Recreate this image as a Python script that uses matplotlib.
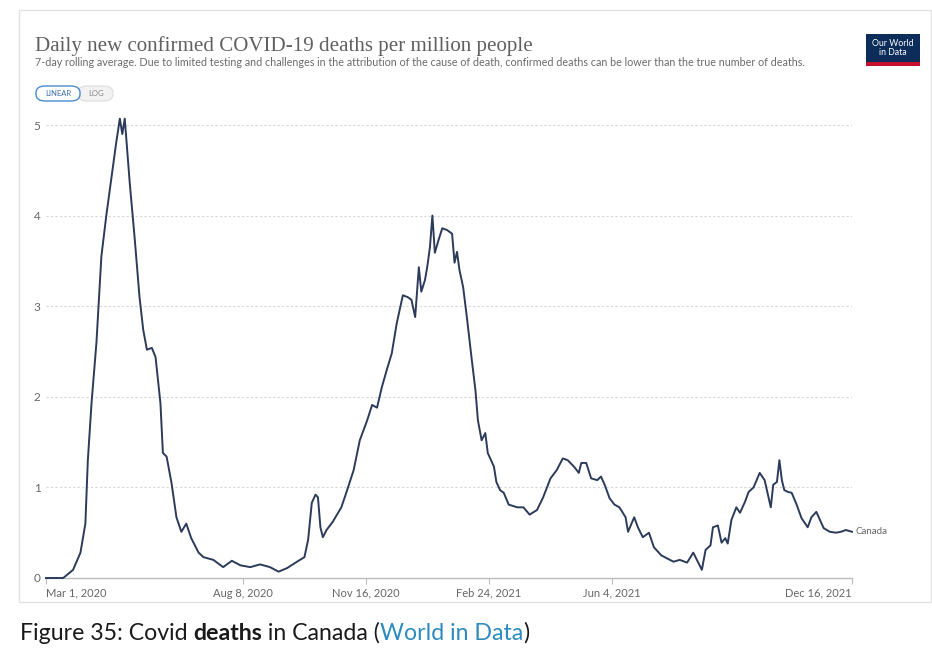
import matplotlib
matplotlib.use("Agg")
import matplotlib.pyplot as plt
import matplotlib.dates as mdates
from matplotlib.patches import FancyBboxPatch, Rectangle
import numpy as np

# ---------------- data ----------------
start_date = "2020-03-01"
day_offset = [0, 14, 22, 28, 32, 34, 37, 41, 45, 49, 52, 55, 57, 60, 62, 64, 66, 68, 72, 76,
              79, 82, 86, 89, 93, 95, 98, 102, 106, 110, 114, 118, 124, 128, 136, 144, 151,
              158, 166, 174, 182, 189, 196, 204, 210, 213, 216, 219, 221, 223, 225, 228, 233,
              240, 244, 250, 255, 261, 265, 269, 273, 277, 281, 285, 290, 294, 297, 300, 303,
              305, 308, 310, 312, 314, 316, 319, 322, 326, 330, 332, 334, 336, 339, 342, 346,
              349, 351, 354, 357, 359, 364, 366, 369, 372, 376, 383, 388, 393, 399, 404, 410,
              415, 420, 424, 429, 433, 435, 439, 443, 448, 451, 454, 458, 462, 466, 471, 473,
              478, 481, 485, 490, 494, 500, 507, 510, 515, 521, 526, 530, 533, 536, 540, 542,
              546, 549, 552, 554, 557, 561, 564, 568, 571, 575, 580, 584, 587, 589, 591, 594,
              596, 598, 600, 603, 606, 610, 614, 619, 622, 626, 629, 632, 637, 642, 646, 650, 655]
deaths_per_million = [0.0, 0.0, 0.09, 0.28, 0.6, 1.3, 1.93, 2.6, 3.55, 4.0, 4.3, 4.6, 4.8, 5.07,
                      4.9, 5.07, 4.72, 4.37, 3.76, 3.1, 2.74, 2.52, 2.54, 2.44, 1.93, 1.38, 1.34,
                      1.05, 0.67, 0.51, 0.6, 0.44, 0.28, 0.23, 0.2, 0.12, 0.19, 0.14, 0.12, 0.15,
                      0.12, 0.07, 0.11, 0.18, 0.23, 0.42, 0.83, 0.92, 0.89, 0.56, 0.45, 0.53, 0.62,
                      0.78, 0.94, 1.19, 1.52, 1.74, 1.91, 1.88, 2.11, 2.3, 2.48, 2.81, 3.12, 3.1,
                      3.07, 2.88, 3.43, 3.16, 3.29, 3.45, 3.65, 4.0, 3.59, 3.73, 3.86, 3.84, 3.8,
                      3.48, 3.6, 3.4, 3.21, 2.88, 2.41, 2.07, 1.74, 1.52, 1.6, 1.38, 1.23, 1.06,
                      0.97, 0.94, 0.81, 0.78, 0.78, 0.7, 0.75, 0.89, 1.1, 1.19, 1.32, 1.3, 1.23,
                      1.16, 1.27, 1.27, 1.1, 1.08, 1.12, 1.03, 0.88, 0.81, 0.78, 0.67, 0.51, 0.67,
                      0.56, 0.45, 0.5, 0.34, 0.25, 0.2, 0.18, 0.2, 0.17, 0.28, 0.17, 0.09, 0.31,
                      0.36, 0.56, 0.58, 0.39, 0.44, 0.38, 0.64, 0.78, 0.72, 0.84, 0.95, 1.0, 1.16,
                      1.08, 0.9, 0.78, 1.03, 1.06, 1.3, 1.08, 0.97, 0.95, 0.94, 0.81, 0.66, 0.56,
                      0.67, 0.73, 0.64, 0.55, 0.51, 0.5, 0.51, 0.53, 0.51]
y_ticks = [0, 1, 2, 3, 4, 5]
x_tick_dates = ["2020-03-01", "2020-08-08", "2020-11-16", "2021-02-24", "2021-06-04", "2021-12-16"]
x_tick_labels = ["Mar 1, 2020", "Aug 8, 2020", "Nov 16, 2020", "Feb 24, 2021", "Jun 4, 2021", "Dec 16, 2021"]
series_name = "Canada"
title = "Daily new confirmed COVID-19 deaths per million people"
subtitle = ("7-day rolling average. Due to limited testing and challenges in the attribution of the "
            "cause of death, confirmed deaths can be lower than the true number of deaths.")

# ---------------- figure ----------------
W, H = 932, 658
fig = plt.figure(figsize=(W / 100, H / 100), dpi=100)
fig.patch.set_facecolor("white")

def fx(x):
    return x / W

def fy(y):
    return 1 - y / H

# card border
fig.patches.append(Rectangle((fx(19), fy(602)), fx(931) - fx(19), fy(10) - fy(602),
                             transform=fig.transFigure, facecolor="white",
                             edgecolor="#e2e2e2", linewidth=1.0, zorder=-5))

renderer = fig.canvas.get_renderer()

def fit_text(x, y, s, width_px, family, size0, **kw):
    t = fig.text(x, y, s, fontfamily=family, fontsize=size0, **kw)
    w = t.get_window_extent(renderer=renderer).width
    t.set_fontsize(size0 * width_px / w)
    return t

fit_text(fx(35), fy(46), title, 497, "Liberation Serif", 15, color="#606060", va="center")
fit_text(fx(35), fy(63), subtitle, 772, "Lato", 7, color="#6b6b6b", va="center")

# LINEAR / LOG buttons
fig.patches.append(FancyBboxPatch((fx(78), fy(101)), fx(113) - fx(78), fy(86) - fy(101),
                                  boxstyle="round,pad=0,rounding_size=0.01",
                                  transform=fig.transFigure, facecolor="#f2f2f2",
                                  edgecolor="#dcdcdc", linewidth=0.8, zorder=1))
fig.patches.append(FancyBboxPatch((fx(36), fy(101)), fx(80) - fx(36), fy(86) - fy(101),
                                  boxstyle="round,pad=0,rounding_size=0.01",
                                  transform=fig.transFigure, facecolor="white",
                                  edgecolor="#4a8bd0", linewidth=1.0, zorder=2))
fig.text(fx(58), fy(93.5), "LINEAR", fontfamily="Lato", fontsize=5.5, color="#3a6ea8",
         ha="center", va="center", zorder=3)
fig.text(fx(96.5), fy(93.5), "LOG", fontfamily="Lato", fontsize=5.5, color="#888888",
         ha="center", va="center", zorder=3)

# OWID logo
fig.patches.append(Rectangle((fx(866), fy(66)), fx(920) - fx(866), fy(34) - fy(66),
                             transform=fig.transFigure, facecolor="#0c2c5a", edgecolor="none"))
fig.patches.append(Rectangle((fx(866), fy(66)), fx(920) - fx(866), fy(62) - fy(66),
                             transform=fig.transFigure, facecolor="#c8102e", edgecolor="none"))
fig.text(fx(893), fy(48), "Our World\nin Data", fontfamily="Lato", fontsize=6.3, color="white",
         ha="center", va="center", linespacing=0.95)

# ---------------- axes ----------------
y_top = 5.05
ax_bottom_px, px_per_unit = 578, 90.6
ax_top_px = ax_bottom_px - y_top * px_per_unit
ax = fig.add_axes([fx(46), fy(ax_bottom_px), fx(852) - fx(46), fy(ax_top_px) - fy(ax_bottom_px)])
ax.set_facecolor("none")
ax.set_zorder(2)

base = np.datetime64(start_date)
dates = base + np.array(day_offset).astype("timedelta64[D]")
ax.plot(dates, deaths_per_million, color="#2c3b5a", linewidth=1.4, solid_joinstyle="round",
        zorder=3, clip_on=False)

xmin = np.datetime64(x_tick_dates[0])
xmax = np.datetime64(x_tick_dates[-1])
ax.set_xlim(mdates.date2num(xmin), mdates.date2num(xmax))
ax.set_ylim(0, y_top)

for s in ["top", "right", "left"]:
    ax.spines[s].set_visible(False)
ax.spines["bottom"].set_color("#bdbdbd")
ax.spines["bottom"].set_linewidth(1.0)

ax.set_yticks(y_ticks)
ax.set_yticklabels([str(v) for v in y_ticks])
ax.tick_params(axis="y", length=0, pad=4, labelsize=8.5, labelcolor="#666666")
for lab in ax.get_yticklabels():
    lab.set_fontfamily("Lato")
ax.yaxis.grid(True, color="#d6d6d6", linestyle=(0, (2, 2)), linewidth=0.8)
ax.set_axisbelow(True)
ax.get_ygridlines()[0].set_visible(False)

tick_nums = [mdates.date2num(np.datetime64(d)) for d in x_tick_dates]
ax.set_xticks(tick_nums)
ax.set_xticklabels(x_tick_labels)
ax.tick_params(axis="x", length=4, width=0.8, color="#bdbdbd", pad=3, labelsize=8,
               labelcolor="#666666")
labels = ax.get_xticklabels()
for lab in labels:
    lab.set_fontfamily("Lato")
labels[0].set_ha("left")
labels[-1].set_ha("right")

ax.text(1.004, deaths_per_million[-1], series_name, transform=ax.get_yaxis_transform(),
        fontfamily="Lato", fontsize=7, color="#666666", va="center", ha="left", clip_on=False)

# ---------------- caption ----------------
cx, cy = fx(20), fy(633)
pieces = [("Figure 35: Covid ", "normal", "#1a1a1a"),
          ("deaths", "bold", "#1a1a1a"),
          (" in Canada (", "normal", "#1a1a1a"),
          ("World in Data", "normal", "#2e8bc0"),
          (")", "normal", "#1a1a1a")]
cap_family = "Lato"
cap_size = 12.0
total = 0
for txt, wgt, col in pieces:
    t = fig.text(0, 0, txt, fontfamily=cap_family, fontsize=cap_size, fontweight=wgt)
    total += t.get_window_extent(renderer=renderer).width
    t.remove()
cap_size = cap_size * 507 / total
xpos = cx
for txt, wgt, col in pieces:
    t = fig.text(xpos, cy, txt, fontfamily=cap_family, fontsize=cap_size, fontweight=wgt,
                 color=col, va="center", ha="left")
    xpos += t.get_window_extent(renderer=renderer).width / W

fig.savefig("out.png", dpi=100, facecolor="white")
